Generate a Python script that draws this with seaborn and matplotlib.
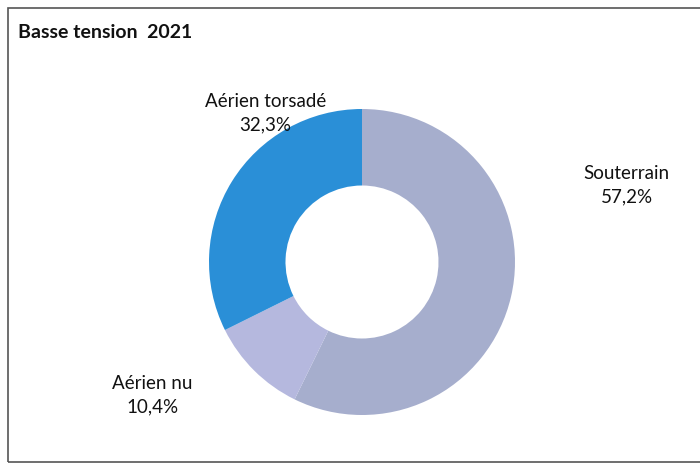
import matplotlib.pyplot as plt
import seaborn as sns
from matplotlib.patches import Rectangle

# data
categories = ['Souterrain', 'Aérien nu', 'Aérien torsadé']
shares = [57.2, 10.4, 32.3]
share_labels = ['57,2%', '10,4%', '32,3%']

colors = ['#a6aecd', '#b5b8de', '#2a8fd7']
# label centres in pie units (radius = 1)
label_pos = [(1.73, 0.50), (-1.37, -0.87), (-0.63, 0.97)]

sns.set_theme(style='white')
plt.rcParams['font.family'] = ['Lato', 'DejaVu Sans']

fig = plt.figure(figsize=(7, 4.66), dpi=100)
fig.patch.set_facecolor('white')

# frame of the chart area
fig.add_artist(Rectangle((8 / 700, 4 / 466), 700, 454 / 466, transform=fig.transFigure,
                         fill=False, edgecolor='#555555', linewidth=1.2))
fig.text(18 / 700, 1 - 33 / 466, 'Basse tension  2021', fontsize=14, fontweight='bold',
         va='center', ha='left', color='#111111')

ax = fig.add_axes([209 / 700, 51 / 466, 306 / 700, 306 / 466])
ax.pie(shares, colors=colors, startangle=90, counterclock=False, radius=1,
       wedgeprops=dict(width=0.5, edgecolor='none'))
ax.set_xlim(-1, 1)
ax.set_ylim(-1, 1)
ax.set_aspect('equal')
ax.axis('off')

for name, pct, (x, y) in zip(categories, share_labels, label_pos):
    ax.text(x, y, name + '\n' + pct, ha='center', va='center', fontsize=13.5,
            color='#111111', linespacing=1.45, clip_on=False)

fig.savefig('out.png', dpi=100)
